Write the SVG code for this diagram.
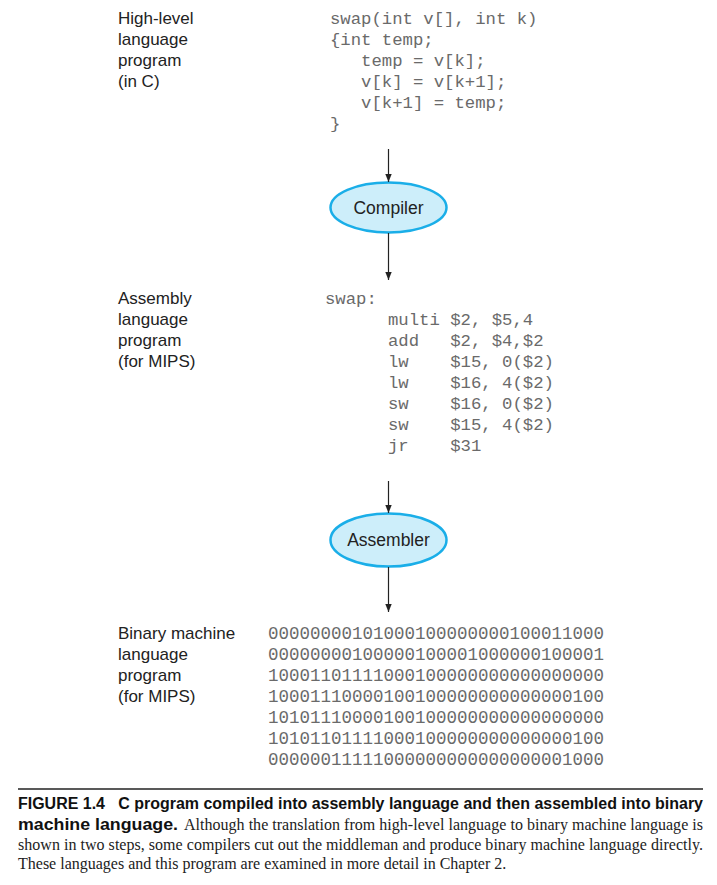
<svg xmlns="http://www.w3.org/2000/svg" width="717" height="885" viewBox="0 0 717 885">
<defs>
<marker id="ah" viewBox="0 0 10 10" refX="10" refY="5" markerWidth="8" markerHeight="8" markerUnits="userSpaceOnUse" orient="auto">
<path d="M0,1 L10,5 L0,9 Z" fill="#222"/>
</marker>
<style>
.lbl{font-family:"Liberation Sans",Arial,sans-serif;font-size:17px;fill:#222}
.code{font-family:"Liberation Mono","DejaVu Sans Mono",monospace;font-size:17.3px;fill:#6a6a6a;white-space:pre}
.bin{font-family:"Liberation Mono","DejaVu Sans Mono",monospace;font-size:17.5px;fill:#6a6a6a}
.ell{fill:#cdeefa;stroke:#1aaee8;stroke-width:2.5}
.etxt{font-family:"Liberation Sans",Arial,sans-serif;font-size:17.5px;fill:#222;text-anchor:middle}
.conn{stroke:#222;stroke-width:1.2;fill:none}
.capb{font-family:"Liberation Sans",Arial,sans-serif;font-weight:bold;font-size:16px;fill:#111}
.caps{font-family:"Liberation Serif","Times New Roman",serif;font-size:16px;fill:#222}
</style>
</defs>
<rect width="717" height="885" fill="#fff"/>

<g id="hll">
<text class="lbl" x="118" y="24">High-level</text>
<text class="lbl" x="118" y="45">language</text>
<text class="lbl" x="118" y="66">program</text>
<text class="lbl" x="118" y="87">(in C)</text>
<text class="code" x="330" y="24" xml:space="preserve">swap(int v[], int k)</text>
<text class="code" x="330" y="45" xml:space="preserve">{int temp;</text>
<text class="code" x="330" y="66" xml:space="preserve">   temp = v[k];</text>
<text class="code" x="330" y="87" xml:space="preserve">   v[k] = v[k+1];</text>
<text class="code" x="330" y="108" xml:space="preserve">   v[k+1] = temp;</text>
<text class="code" x="330" y="129" xml:space="preserve">}</text>
</g>

<g id="compiler">
<ellipse class="ell" cx="388.5" cy="207.5" rx="58" ry="25"/>
<text class="etxt" x="388.5" y="213.5">Compiler</text>
</g>

<g id="asm">
<text class="lbl" x="118" y="304">Assembly</text>
<text class="lbl" x="118" y="325">language</text>
<text class="lbl" x="118" y="346">program</text>
<text class="lbl" x="118" y="367">(for MIPS)</text>
<text class="code" x="325" y="304" xml:space="preserve">swap:</text>
<text class="code" x="388" y="325" xml:space="preserve">multi $2, $5,4</text>
<text class="code" x="388" y="346" xml:space="preserve">add   $2, $4,$2</text>
<text class="code" x="388" y="367" xml:space="preserve">lw    $15, 0($2)</text>
<text class="code" x="388" y="388" xml:space="preserve">lw    $16, 4($2)</text>
<text class="code" x="388" y="409" xml:space="preserve">sw    $16, 0($2)</text>
<text class="code" x="388" y="430" xml:space="preserve">sw    $15, 4($2)</text>
<text class="code" x="388" y="451" xml:space="preserve">jr    $31</text>
</g>

<g id="assembler">
<ellipse class="ell" cx="388.5" cy="540" rx="58" ry="26.5"/>
<text class="etxt" x="388.5" y="546">Assembler</text>
</g>

<g id="binary">
<text class="lbl" x="118" y="639">Binary machine</text>
<text class="lbl" x="118" y="660">language</text>
<text class="lbl" x="118" y="681">program</text>
<text class="lbl" x="118" y="702">(for MIPS)</text>
<text class="bin" x="268" y="639">00000000101000100000000100011000</text>
<text class="bin" x="268" y="660">00000000100000100001000000100001</text>
<text class="bin" x="268" y="681">10001101111000100000000000000000</text>
<text class="bin" x="268" y="702">10001110000100100000000000000100</text>
<text class="bin" x="268" y="723">10101110000100100000000000000000</text>
<text class="bin" x="268" y="744">10101101111000100000000000000100</text>
<text class="bin" x="268" y="765">00000011111000000000000000001000</text>
</g>

<g id="connectors">
<line class="conn" x1="388.5" y1="149" x2="388.5" y2="182" marker-end="url(#ah)"/>
<line class="conn" x1="388.5" y1="233" x2="388.5" y2="280" marker-end="url(#ah)"/>
<line class="conn" x1="388.5" y1="481" x2="388.5" y2="513" marker-end="url(#ah)"/>
<line class="conn" x1="388.5" y1="567" x2="388.5" y2="612" marker-end="url(#ah)"/>
</g>

<g id="caption">
<line x1="18" y1="789" x2="703" y2="789" stroke="#222" stroke-width="1.5"/>
<text class="capb" x="18" y="809" textLength="685" lengthAdjust="spacingAndGlyphs" xml:space="preserve">FIGURE 1.4   C program compiled into assembly language and then assembled into binary</text>
<text class="capb" x="18" y="830" textLength="160" lengthAdjust="spacingAndGlyphs">machine language.</text>
<text class="caps" x="184" y="830" textLength="519" lengthAdjust="spacing">Although the translation from high-level language to binary machine language is</text>
<text class="caps" x="18" y="850" textLength="685" lengthAdjust="spacing">shown in two steps, some compilers cut out the middleman and produce binary machine language directly.</text>
<text class="caps" x="18" y="869">These languages and this program are examined in more detail in Chapter 2.</text>
</g>
</svg>
